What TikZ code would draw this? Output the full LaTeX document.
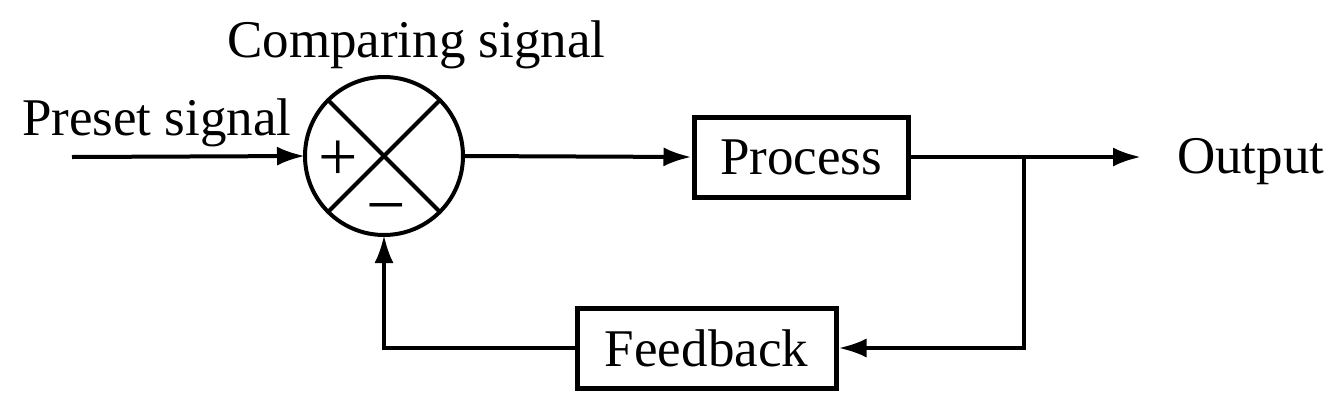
\documentclass[tikz,border=0pt]{standalone}
\usepackage{fontspec}
\setmainfont{Liberation Serif}
\usetikzlibrary{arrows.meta}
\begin{document}
\begin{tikzpicture}[x=1pt,y=-1pt,
  lbl/.style={inner sep=0pt,font=\fontsize{53}{60}\selectfont},
  sign/.style={inner sep=0pt,anchor=base,font=\fontsize{70}{74}\selectfont},
  blockbox/.style={draw,line width=5pt,minimum height=80pt,inner sep=0pt,font=\fontsize{53}{60}\selectfont},
  sumnode/.style={draw,circle,line width=4pt,minimum size=158pt,inner sep=0pt,outer sep=0pt},
  conn/.style={line width=4pt},
  arr/.style={conn,-{Latex[length=28pt,width=19pt]}}]
\useasboundingbox (0,0) rectangle (1342,408);
% summing junction
\node[sumnode] (sum) at (384,156) {};
\draw[conn] (sum.north west) -- (sum.south east);
\draw[conn] (sum.north east) -- (sum.south west);
\node[sign] (plus) at (338,180) {+};
\node[sign] (minus) at (386,228) {−};
% labels
\node[lbl,anchor=base west] (preset) at (22,135) {Preset signal};
\node[lbl,anchor=base west] (comp) at (227,57) {Comparing signal};
\node[lbl,anchor=base west] (outlbl) at (1177,173) {Output};
% blocks
\node[blockbox,minimum width=214pt] (proc) at (801,157) {Process};
\node[blockbox,minimum width=259pt] (fb) at (706.5,348) {Feedback};
% coordinates
\coordinate (in) at (72,157);
\coordinate (out) at (1141,157);
\coordinate (br) at (1024,157);
% connectors
\draw[arr] (in) -- (sum.west);
\draw[arr] (sum.east) -- (proc.west);
\draw[arr] (proc.east) -- (out);
\draw[arr] (br) |- (fb.east);
\draw[arr] (fb.west) -| (sum.south);
\end{tikzpicture}
\end{document}
